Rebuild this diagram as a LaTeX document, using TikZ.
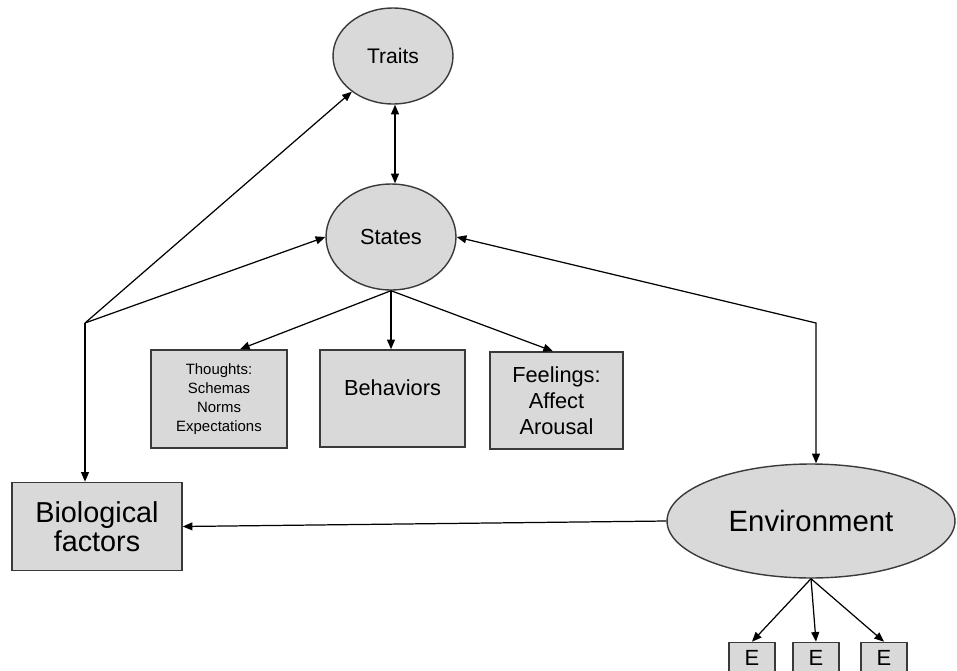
\documentclass[tikz,border=0pt]{standalone}
\usepackage{fontspec}
\setmainfont{Liberation Sans}
\usetikzlibrary{shapes.geometric,arrows.meta}

\definecolor{boxgray}{HTML}{D9D9D9}
\definecolor{edgegray}{HTML}{3A3A3A}

\tikzset{
    latent/.style={ellipse, draw=edgegray, line width=0.8pt, fill=boxgray, inner sep=0pt},
    obsbox/.style={rectangle, draw=edgegray, line width=0.9pt, fill=boxgray, align=center, inner sep=0pt},
    path/.style={line width=0.7pt, -{Triangle[length=5.5pt,width=4.5pt]}},
    twoway/.style={line width=0.7pt, {Triangle[length=5.5pt,width=4.5pt]}-{Triangle[length=5.5pt,width=4.5pt]}}
}

\begin{document}
\begin{tikzpicture}[x=0.02cm, y=-0.02cm]
    \useasboundingbox (0,0) rectangle (957,670);

    \node[latent, minimum width=2.4cm, minimum height=1.92cm, font=\fontsize{12}{14}\selectfont] (traits) at (393,56) {Traits};
    \node[latent, minimum width=2.6cm, minimum height=2.12cm, font=\fontsize{12.4}{14}\selectfont] (states) at (391,237) {States};
    \node[latent, minimum width=5.76cm, minimum height=2.28cm, font=\fontsize{16.7}{19}\selectfont] (env) at (811,521) {Environment};

    \node[obsbox, minimum width=2.72cm, minimum height=1.96cm, font=\fontsize{8.5}{10.8}\selectfont] (thoughts) at (219,399)
        {Thoughts:\\Schemas\\Norms\\Expectations};
    \node[obsbox, minimum width=2.9cm, minimum height=1.94cm, text depth=0.45cm, font=\fontsize{12.4}{14}\selectfont] (behav) at (392.5,398.5)
        {Behaviors};
    \node[obsbox, minimum width=2.66cm, minimum height=1.94cm, font=\fontsize{12.4}{14.7}\selectfont] (feel) at (556.5,400.5)
        {Feelings:\\Affect\\Arousal};
    \node[obsbox, minimum width=3.4cm, minimum height=1.76cm, font=\fontsize{16.4}{16.4}\selectfont] (bio) at (97,526.5)
        {Biological\\factors};

    \foreach \n/\x in {e1/752,e2/816,e3/884}
    \node[obsbox, minimum width=0.92cm, minimum height=0.62cm, font=\fontsize{12.5}{14}\selectfont] (\n) at (\x,658) {E};

    \coordinate (jn) at (85,323);
    \coordinate (cr) at (816,323);
    \coordinate (tx) at (395,0);

    % biology branch
    \draw[path] (jn) -- (traits);
    \draw[path] (jn) -- (states.west);
    \draw[path] (jn) -- (jn |- bio.north);
    \draw[path] (env.west) -- (bio.east);

    \draw[twoway] (tx |- traits.south) -- (tx |- states.north);
    \draw[twoway] (states.east) -- (cr) -- (cr |- env.north);

    \draw[path] (states.south) -- ([xshift=0.42cm]thoughts.north);
    \draw[path] (states.south) -- (states.south |- behav.north);
    \draw[path] (states.south) -- ([xshift=-0.07cm]feel.north);

    \foreach \n in {e1,e2,e3}
    \draw[path] (env.south) -- (\n.north);

\end{tikzpicture}
\end{document}
